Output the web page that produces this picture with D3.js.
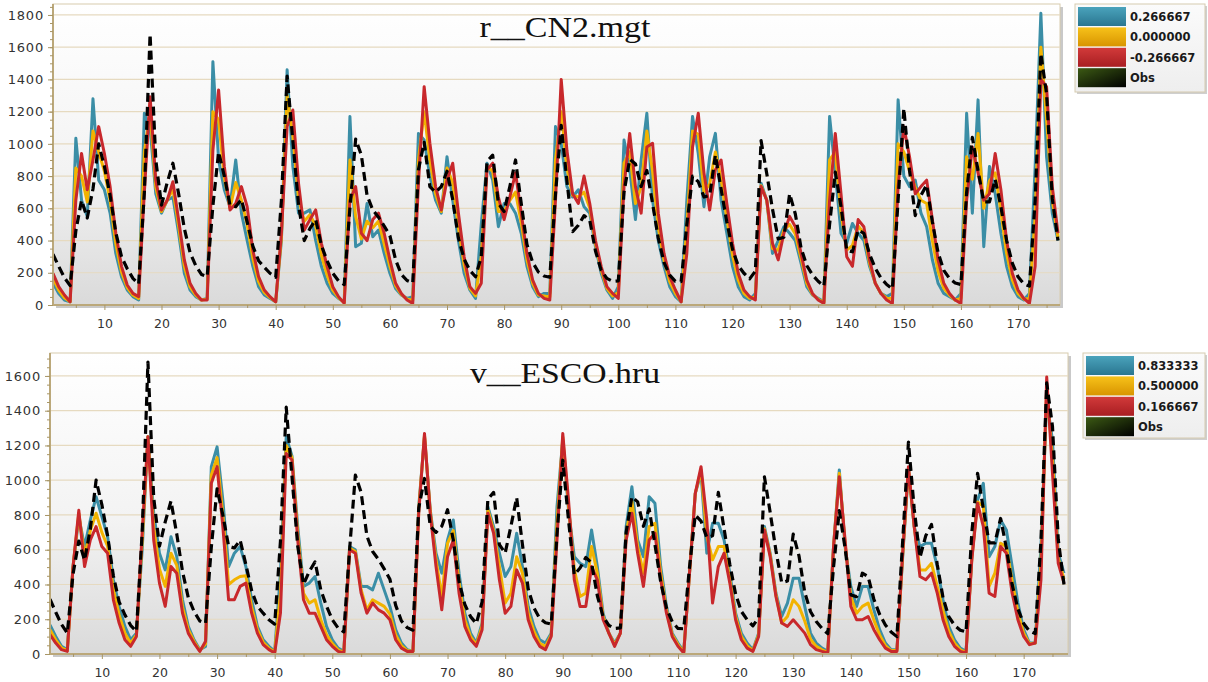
<!DOCTYPE html>
<meta charset="utf-8">
<head>
<style>
  body { margin: 0; background: #fff; }
  .tick text { font-family: "DejaVu Sans", sans-serif; fill: #333; }
  .title { font-family: "Liberation Serif", serif; fill: #111; }
  .leg { font-family: "DejaVu Sans", sans-serif; font-weight: bold; font-size: 11.5px; fill: #1a1a1a; }
</style>
</head>
<body>
<div id="chart"></div>
<script src="https://d3js.org/d3.v7.min.js"></script>
<script>
// month index 1..177
var months = d3.range(1, 178);

// observed flow (same in both panels)
var obs = [
  315, 240, 170, 120, 460, 650, 540, 720, 1000, 860, 680, 450,
  300, 225, 165, 130, 700, 1680, 900, 620, 760, 880, 690, 475,
  325, 245, 190, 177, 615, 950, 800, 620, 610, 655, 515, 365,
  275, 235, 197, 172, 650, 1420, 1020, 620, 400, 475, 530, 370,
  275, 197, 150, 127, 600, 1030, 930, 680, 590, 545, 490, 430,
  280, 190, 152, 137, 840, 1010, 735, 700, 735, 830, 655, 415,
  285, 215, 175, 300, 890, 930, 630, 580, 735, 900, 630, 375,
  265, 205, 180, 172, 690, 1115, 770, 455, 495, 555, 525, 335,
  215, 165, 147, 150, 700, 905, 875, 735, 835, 630, 415, 265,
  185, 147, 145, 500, 800, 765, 670, 680, 930, 720, 515, 345,
  245, 197, 162, 210, 1020, 815, 595, 410, 420, 690, 565, 355,
  245, 187, 147, 117, 500, 825, 610, 340, 330, 465, 445, 315,
  228, 167, 127, 100, 650, 1220, 835, 555, 680, 745, 515, 325,
  215, 165, 137, 127, 700, 1040, 835, 640, 640, 780, 610, 400,
  260, 175, 132, 117, 650, 1560, 1310, 660, 400
];

// r__CN2.mgt = 0.266667
var cn2Pos = [
  135, 72, 31, 20, 1035, 650, 550, 1280, 775, 715, 570, 320,
  175, 93, 52, 31, 1190, 1100, 690, 570, 650, 670, 445, 197,
  93, 52, 31, 41, 1510, 900, 715, 610, 900, 570, 400, 240,
  114, 62, 41, 20, 400, 1460, 860, 570, 570, 590, 400, 240,
  135, 72, 41, 20, 1170, 362, 383, 630, 424, 465, 320, 197,
  103, 62, 41, 52, 1065, 1024, 800, 650, 570, 920, 650, 400,
  197, 93, 41, 500, 880, 775, 486, 630, 630, 570, 445, 240,
  114, 52, 72, 72, 1107, 1000, 735, 670, 715, 610, 570, 362,
  197, 93, 41, 114, 1024, 840, 530, 900, 1190, 650, 400, 240,
  114, 52, 20, 650, 1170, 940, 610, 920, 1065, 650, 445, 240,
  114, 52, 31, 72, 755, 650, 320, 400, 486, 445, 400, 260,
  114, 62, 41, 20, 1170, 820, 445, 383, 506, 445, 400, 240,
  135, 72, 52, 72, 1273, 800, 735, 775, 570, 486, 280, 135,
  72, 52, 31, 72, 1190, 570, 1273, 362, 860, 690, 445, 240,
  114, 52, 31, 72, 860, 1810, 920, 570, 400
];

// r__CN2.mgt = 0.000000
var cn2Zero = [
  165, 92, 45, 20, 850, 800, 640, 1080, 950, 830, 650, 380,
  205, 108, 62, 40, 950, 1200, 730, 580, 650, 720, 490, 240,
  112, 62, 31, 36, 1200, 1150, 790, 600, 760, 650, 500, 290,
  145, 78, 46, 20, 420, 1300, 1050, 660, 520, 560, 490, 310,
  185, 92, 46, 15, 900, 550, 410, 520, 480, 520, 380, 240,
  120, 66, 36, 30, 900, 1200, 900, 690, 580, 850, 760, 480,
  250, 104, 56, 300, 860, 830, 580, 580, 650, 700, 510, 280,
  135, 62, 56, 50, 900, 1200, 850, 680, 670, 700, 600, 380,
  218, 104, 56, 78, 880, 950, 630, 730, 1080, 830, 480, 280,
  145, 72, 20, 480, 1080, 1060, 700, 750, 950, 780, 540, 310,
  155, 72, 42, 50, 740, 650, 350, 340, 465, 500, 440, 290,
  135, 66, 36, 15, 900, 950, 570, 340, 370, 490, 445, 260,
  135, 72, 42, 40, 1000, 950, 830, 730, 650, 630, 400, 210,
  104, 62, 31, 40, 920, 780, 1065, 600, 770, 820, 580, 320,
  155, 72, 36, 40, 550, 1600, 1150, 650, 420
];

// r__CN2.mgt = -0.266667
var cn2Neg = [
  196, 114, 62, 20, 650, 940, 715, 900, 1107, 940, 735, 445,
  240, 124, 72, 52, 700, 1293, 775, 590, 650, 765, 530, 280,
  135, 72, 31, 31, 960, 1335, 860, 590, 630, 735, 610, 340,
  176, 93, 52, 20, 445, 1107, 1210, 755, 465, 530, 590, 383,
  240, 114, 52, 10, 650, 735, 445, 400, 530, 570, 445, 280,
  135, 72, 31, 10, 755, 1355, 1004, 735, 590, 775, 880, 570,
  300, 114, 72, 135, 840, 880, 670, 530, 670, 820, 570, 320,
  155, 72, 41, 31, 650, 1400, 960, 690, 630, 800, 630, 400,
  240, 114, 72, 41, 735, 1065, 735, 570, 980, 1004, 570, 320,
  176, 93, 20, 320, 980, 1190, 820, 590, 840, 900, 630, 383,
  197, 93, 52, 31, 735, 650, 383, 280, 445, 550, 486, 320,
  155, 72, 31, 10, 650, 1065, 690, 300, 240, 530, 486, 280,
  135, 72, 31, 10, 735, 1107, 920, 690, 735, 775, 530, 280,
  135, 72, 31, 10, 650, 980, 820, 650, 690, 940, 715, 400,
  197, 93, 41, 10, 240, 1400, 1355, 735, 445
];

// v__ESCO.hru = 0.833333
var escoHigh = [
  168, 101, 44, 25, 503, 790, 618, 771, 905, 790, 675, 427,
  274, 159, 82, 120, 600, 1250, 810, 580, 484, 675, 560, 312,
  159, 82, 25, 44, 1078, 1192, 886, 503, 580, 618, 503, 312,
  159, 82, 44, 15, 465, 1250, 1140, 733, 389, 408, 446, 293,
  159, 82, 34, 15, 618, 599, 389, 389, 369, 465, 369, 274,
  140, 63, 25, 15, 848, 1250, 829, 580, 465, 656, 771, 465,
  235, 120, 63, 178, 848, 733, 580, 446, 503, 695, 503, 274,
  159, 82, 63, 120, 848, 1230, 829, 560, 522, 503, 714, 503,
  235, 120, 63, 120, 733, 963, 656, 560, 905, 867, 503, 274,
  120, 63, 15, 465, 924, 1040, 580, 752, 752, 656, 465, 235,
  120, 63, 25, 120, 733, 580, 350, 216, 293, 436, 436, 274,
  120, 63, 34, 15, 618, 1059, 618, 389, 274, 389, 389, 254,
  140, 63, 25, 25, 560, 1059, 733, 618, 637, 637, 503, 312,
  159, 82, 34, 15, 560, 886, 982, 560, 618, 771, 714, 503,
  293, 140, 63, 63, 618, 1460, 1230, 580, 465
];

// v__ESCO.hru = 0.500000
var escoMid = [
  140, 80, 35, 20, 503, 810, 560, 710, 810, 700, 620, 370,
  225, 120, 62, 110, 650, 1250, 730, 490, 389, 580, 510, 270,
  140, 72, 20, 58, 1030, 1130, 800, 400, 427, 446, 450, 270,
  140, 68, 34, 10, 350, 1200, 1130, 690, 350, 293, 312, 197,
  110, 60, 24, 10, 610, 590, 370, 254, 312, 293, 274, 230,
  110, 48, 20, 15, 830, 1260, 820, 542, 331, 637, 710, 410,
  197, 100, 54, 160, 830, 710, 503, 293, 350, 560, 465, 235,
  130, 62, 44, 110, 750, 1250, 850, 490, 331, 350, 618, 465,
  216, 120, 54, 120, 690, 880, 618, 465, 733, 752, 465, 254,
  110, 54, 10, 465, 924, 1060, 680, 542, 618, 618, 427, 216,
  100, 48, 20, 110, 720, 570, 340, 178, 216, 312, 274, 190,
  85, 44, 24, 10, 618, 1040, 637, 330, 235, 274, 293, 195,
  110, 48, 20, 20, 570, 1070, 733, 484, 484, 522, 389, 250,
  130, 62, 24, 10, 550, 875, 850, 389, 465, 637, 618, 420,
  240, 120, 58, 63, 520, 1530, 1130, 550, 430
];

// v__ESCO.hru = 0.166667
var escoLow = [
  111, 63, 25, 15, 503, 827, 503, 656, 733, 618, 580, 312,
  178, 82, 44, 101, 700, 1250, 656, 408, 274, 503, 465, 235,
  120, 63, 15, 73, 982, 1078, 733, 312, 312, 389, 408, 235,
  120, 54, 25, 6, 235, 1154, 1116, 656, 312, 235, 235, 159,
  82, 44, 15, 6, 599, 580, 350, 235, 293, 254, 235, 197,
  82, 34, 15, 15, 810, 1269, 810, 503, 254, 560, 656, 350,
  159, 82, 44, 140, 810, 695, 427, 235, 274, 484, 408, 197,
  101, 44, 25, 101, 656, 1269, 886, 427, 274, 274, 503, 427,
  197, 120, 44, 120, 656, 810, 580, 389, 656, 695, 427, 235,
  101, 44, 6, 465, 924, 1078, 771, 293, 503, 580, 408, 197,
  82, 34, 15, 101, 714, 560, 331, 178, 159, 197, 159, 120,
  54, 25, 15, 6, 618, 1020, 656, 274, 197, 197, 216, 140,
  82, 34, 15, 15, 580, 1078, 733, 446, 427, 465, 350, 197,
  101, 44, 15, 6, 542, 867, 733, 350, 331, 618, 580, 350,
  197, 101, 54, 63, 427, 1594, 1040, 522, 408
];

var cn2Labels = ["0.266667", "0.000000", "-0.266667", "Obs"];
var escoLabels = ["0.833333", "0.500000", "0.166667", "Obs"];
var xTickValues = [10, 20, 30, 40, 50, 60, 70, 80, 90, 100, 110, 120, 130, 140, 150, 160, 170];
var cn2YTicks = [0, 200, 400, 600, 800, 1000, 1200, 1400, 1600, 1800];
var escoYTicks = [0, 200, 400, 600, 800, 1000, 1200, 1400, 1600];

var colors = ["#3b8ea6", "#f2b300", "#c8282c", "#000000"];
var swatchTop = ["#4aa3bc", "#f7c21a", "#d23a3a", "#3c5a14"];
var swatchBot = ["#2a7690", "#d89400", "#a81e22", "#000000"];

var W = 1208, H = 682;
var svg = d3.select("#chart").append("svg")
    .attr("width", W).attr("height", H);

var defs = svg.append("defs");
var bg = defs.append("linearGradient").attr("id", "plotbg")
    .attr("x1", 0).attr("y1", 0).attr("x2", 0).attr("y2", 1);
bg.append("stop").attr("offset", "0%").attr("stop-color", "#ffffff");
bg.append("stop").attr("offset", "55%").attr("stop-color", "#f3f3f3");
bg.append("stop").attr("offset", "100%").attr("stop-color", "#dadada");

var lg = defs.append("linearGradient").attr("id", "legbg")
    .attr("x1", 0).attr("y1", 0).attr("x2", 0).attr("y2", 1);
lg.append("stop").attr("offset", "0%").attr("stop-color", "#fbfbfb");
lg.append("stop").attr("offset", "100%").attr("stop-color", "#eeeeee");

colors.forEach(function(c, k) {
  var g = defs.append("linearGradient").attr("id", "sw" + k)
      .attr("x1", 0).attr("y1", 0).attr("x2", k == 3 ? 1 : 0).attr("y2", 1);
  g.append("stop").attr("offset", "0%").attr("stop-color", swatchTop[k]);
  g.append("stop").attr("offset", "100%").attr("stop-color", swatchBot[k]);
});

function drawPanel(p) {
  var x = d3.scaleLinear().domain([1, 177]).range([p.left, p.xEnd]);
  var y = d3.scaleLinear().domain([0, p.yMax]).range([p.bottom, p.top]);
  var g = svg.append("g");

  // shadow + plot background
  g.append("rect").attr("x", p.left + 3).attr("y", p.top + 3)
    .attr("width", p.right - p.left).attr("height", p.bottom - p.top)
    .attr("fill", "#c9c9c9");
  g.append("rect").attr("x", p.left).attr("y", p.top)
    .attr("width", p.right - p.left).attr("height", p.bottom - p.top)
    .attr("fill", "url(#plotbg)").attr("stroke", "#d8ccae").attr("stroke-width", 1);

  // grid lines
  g.selectAll(".grid").data(p.yTicks.filter(function(d) { return d > 0; }))
    .enter().append("line")
      .attr("x1", p.left).attr("x2", p.right)
      .attr("y1", function(d) { return y(d); })
      .attr("y2", function(d) { return y(d); })
      .attr("stroke", "#e6dac0").attr("stroke-width", 1.2);

  // title
  g.append("text").attr("class", "title")
    .attr("x", p.titleX).attr("y", p.titleY)
    .attr("text-anchor", "middle")
    .attr("font-size", 30)
    .attr("textLength", p.titleW).attr("lengthAdjust", "spacingAndGlyphs")
    .text(p.title);

  // series lines
  var clipId = "clip" + p.id;
  defs.append("clipPath").attr("id", clipId).append("rect")
    .attr("x", p.left).attr("y", p.top)
    .attr("width", p.right - p.left).attr("height", p.bottom - p.top);

  var line = d3.line()
    .x(function(d, i) { return x(months[i]); })
    .y(function(d) { return y(d); });

  var lines = g.append("g").attr("clip-path", "url(#" + clipId + ")");
  p.series.forEach(function(s, k) {
    lines.append("path").datum(s)
      .attr("fill", "none")
      .attr("stroke", colors[k])
      .attr("stroke-width", k == 3 ? 3.2 : 3)
      .attr("stroke-linejoin", "round")
      .attr("stroke-dasharray", k == 3 ? "9,5" : null)
      .attr("d", line);
  });

  // axes
  var yAxis = g.append("g").attr("transform", "translate(" + p.left + ",0)")
    .call(d3.axisLeft(y).tickValues(p.yTicks).tickSize(5).tickPadding(4).tickFormat(d3.format("d")));
  g.append("g").attr("transform", "translate(" + p.left + ",0)")
    .call(d3.axisLeft(y).tickValues(d3.range(0, p.yMax, 50)).tickSize(3).tickFormat(""))
    .call(function(a) { a.select(".domain").remove(); });
  var xAxis = g.append("g").attr("transform", "translate(0," + p.bottom + ")")
    .call(d3.axisBottom(x).tickValues(xTickValues).tickSize(5).tickPadding(9));
  g.append("g").attr("transform", "translate(0," + p.bottom + ")")
    .call(d3.axisBottom(x).tickValues(d3.range(5, 177, 10)).tickSize(3).tickFormat(""))
    .call(function(a) { a.select(".domain").remove(); });

  g.selectAll(".domain").attr("stroke", "#bba87a").attr("stroke-width", 2);
  g.selectAll(".tick line").attr("stroke", "#a89666");
  yAxis.selectAll(".domain").attr("d", "M0," + p.top + "V" + p.bottom);
  xAxis.selectAll(".domain").attr("d", "M" + p.left + ",0H" + p.right);
  yAxis.selectAll(".tick text").attr("font-size", 13).attr("letter-spacing", 0.8);
  xAxis.selectAll(".tick text").attr("font-size", 12.5);

  // legend
  var L = p.legend;
  var leg = svg.append("g");
  leg.append("rect").attr("x", L.x + 2).attr("y", L.y + 2)
    .attr("width", L.w).attr("height", L.h).attr("fill", "#cfcfcf");
  leg.append("rect").attr("x", L.x).attr("y", L.y)
    .attr("width", L.w).attr("height", L.h)
    .attr("fill", "url(#legbg)").attr("stroke", "#d6cbb0");
  p.labels.forEach(function(t, k) {
    var ry = L.y + 3 + k * 20.4;
    leg.append("rect").attr("x", L.x + 3).attr("y", ry)
      .attr("width", 48).attr("height", 19)
      .attr("fill", "url(#sw" + k + ")");
    leg.append("text").attr("class", "leg")
      .attr("x", L.x + 55).attr("y", ry + 14)
      .text(t);
  });
}

drawPanel({
  id: 1, left: 53, xEnd: 1058, right: 1060, top: 4, bottom: 305, yMax: 1868,
  yTicks: cn2YTicks, title: "r__CN2.mgt", titleX: 565, titleY: 37, titleW: 171,
  series: [cn2Pos, cn2Zero, cn2Neg, obs], labels: cn2Labels,
  legend: { x: 1075, y: 4, w: 130, h: 88 }
});

drawPanel({
  id: 2, left: 50, xEnd: 1064, right: 1068, top: 353, bottom: 654, yMax: 1732,
  yTicks: escoYTicks, title: "v__ESCO.hru", titleX: 565, titleY: 383, titleW: 190,
  series: [escoHigh, escoMid, escoLow, obs], labels: escoLabels,
  legend: { x: 1083, y: 353, w: 122, h: 85 }
});
</script>
</body>
